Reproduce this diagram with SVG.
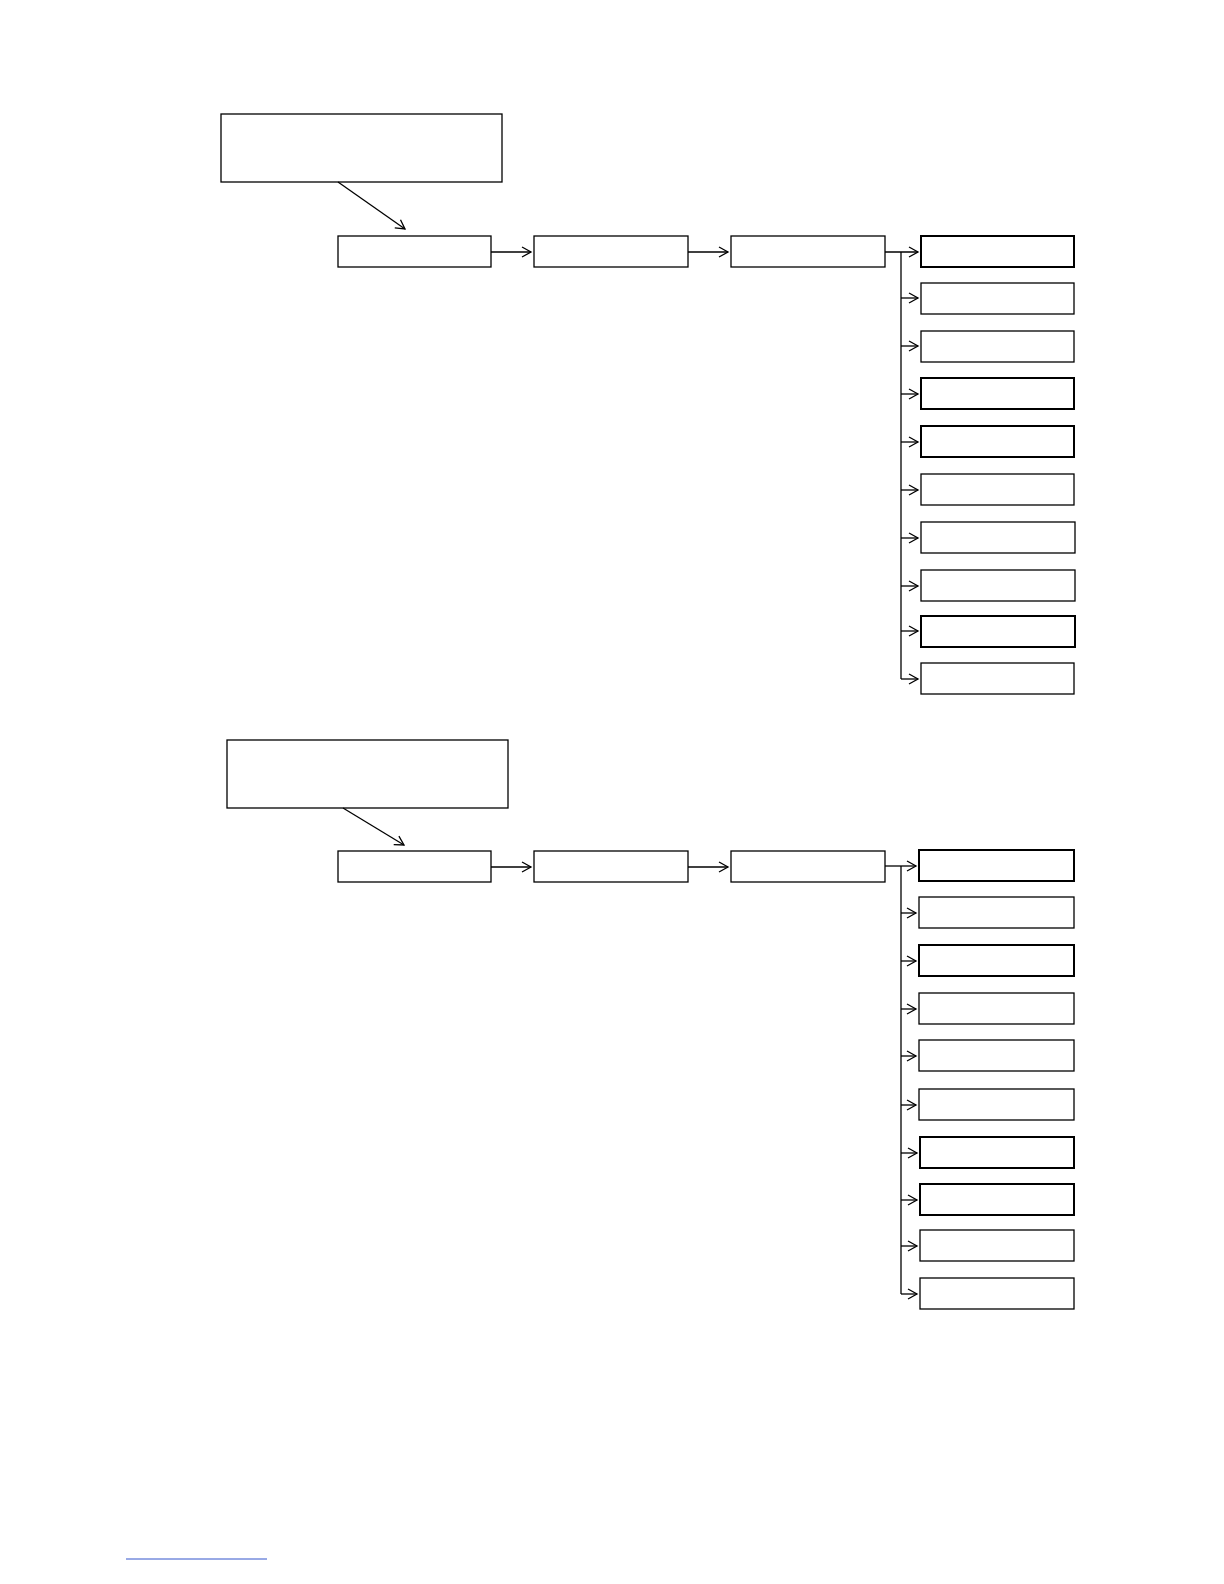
<svg xmlns="http://www.w3.org/2000/svg" width="1224" height="1584" viewBox="0 0 1224 1584" style="background:#fff">
<style>
.n rect{fill:#fff;stroke:#000;stroke-width:1.3}
.n rect.b{stroke-width:2}
#connectors line{stroke:#000;stroke-width:1.3;fill:none}
</style>
<defs><marker id="a" markerWidth="12" markerHeight="12" refX="10" refY="6" orient="auto" markerUnits="userSpaceOnUse"><path d="M1,1 L10,6 L1,11" fill="none" stroke="#000" stroke-width="1.3"/></marker></defs>
<g class="n">
<g id="top-source"><rect x="221" y="114" width="281" height="68"/></g>
<g id="t1"><rect x="338" y="236" width="153" height="31"/></g>
<g id="t2"><rect x="534" y="236" width="154" height="31"/></g>
<g id="t3"><rect x="731" y="236" width="154" height="31"/></g>
<g id="tr1"><rect class="b" x="921" y="236" width="153" height="31"/></g>
<g id="tr2"><rect x="921" y="283" width="153" height="31"/></g>
<g id="tr3"><rect x="921" y="331" width="153" height="31"/></g>
<g id="tr4"><rect class="b" x="921" y="378" width="153" height="31"/></g>
<g id="tr5"><rect class="b" x="921" y="426" width="153" height="31"/></g>
<g id="tr6"><rect x="921" y="474" width="153" height="31"/></g>
<g id="tr7"><rect x="921" y="522" width="154" height="31"/></g>
<g id="tr8"><rect x="921" y="570" width="154" height="31"/></g>
<g id="tr9"><rect class="b" x="921" y="616" width="154" height="31"/></g>
<g id="tr10"><rect x="921" y="663" width="153" height="31"/></g>
<g id="bottom-source"><rect x="227" y="740" width="281" height="68"/></g>
<g id="b1"><rect x="338" y="851" width="153" height="31"/></g>
<g id="b2"><rect x="534" y="851" width="154" height="31"/></g>
<g id="b3"><rect x="731" y="851" width="154" height="31"/></g>
<g id="br1"><rect class="b" x="919" y="850" width="155" height="31"/></g>
<g id="br2"><rect x="919" y="897" width="155" height="31"/></g>
<g id="br3"><rect class="b" x="919" y="945" width="155" height="31"/></g>
<g id="br4"><rect x="919" y="993" width="155" height="31"/></g>
<g id="br5"><rect x="919" y="1040" width="155" height="31"/></g>
<g id="br6"><rect x="919" y="1089" width="155" height="31"/></g>
<g id="br7"><rect class="b" x="920" y="1137" width="154" height="31"/></g>
<g id="br8"><rect class="b" x="920" y="1184" width="154" height="31"/></g>
<g id="br9"><rect x="920" y="1230" width="154" height="31"/></g>
<g id="br10"><rect x="920" y="1278" width="154" height="31"/></g>
</g>
<g id="connectors">
<line x1="338" y1="182" x2="405" y2="229" marker-end="url(#a)"/>
<line x1="491" y1="252" x2="531" y2="252" marker-end="url(#a)"/>
<line x1="688" y1="252" x2="728" y2="252" marker-end="url(#a)"/>
<line x1="885" y1="252" x2="918" y2="252" marker-end="url(#a)"/>
<line x1="901" y1="252" x2="901" y2="679"/>
<line x1="901" y1="298" x2="918" y2="298" marker-end="url(#a)"/>
<line x1="901" y1="346" x2="918" y2="346" marker-end="url(#a)"/>
<line x1="901" y1="394" x2="918" y2="394" marker-end="url(#a)"/>
<line x1="901" y1="442" x2="918" y2="442" marker-end="url(#a)"/>
<line x1="901" y1="490" x2="918" y2="490" marker-end="url(#a)"/>
<line x1="901" y1="538" x2="918" y2="538" marker-end="url(#a)"/>
<line x1="901" y1="586" x2="918" y2="586" marker-end="url(#a)"/>
<line x1="901" y1="631" x2="918" y2="631" marker-end="url(#a)"/>
<line x1="901" y1="679" x2="918" y2="679" marker-end="url(#a)"/>
<line x1="343" y1="808" x2="404" y2="845" marker-end="url(#a)"/>
<line x1="491" y1="867" x2="531" y2="867" marker-end="url(#a)"/>
<line x1="688" y1="867" x2="728" y2="867" marker-end="url(#a)"/>
<line x1="885" y1="866" x2="916" y2="866" marker-end="url(#a)"/>
<line x1="901" y1="866" x2="901" y2="1294"/>
<line x1="901" y1="913" x2="916" y2="913" marker-end="url(#a)"/>
<line x1="901" y1="961" x2="916" y2="961" marker-end="url(#a)"/>
<line x1="901" y1="1009" x2="916" y2="1009" marker-end="url(#a)"/>
<line x1="901" y1="1056" x2="916" y2="1056" marker-end="url(#a)"/>
<line x1="901" y1="1105" x2="916" y2="1105" marker-end="url(#a)"/>
<line x1="901" y1="1153" x2="917" y2="1153" marker-end="url(#a)"/>
<line x1="901" y1="1200" x2="917" y2="1200" marker-end="url(#a)"/>
<line x1="901" y1="1246" x2="917" y2="1246" marker-end="url(#a)"/>
<line x1="901" y1="1294" x2="917" y2="1294" marker-end="url(#a)"/>
</g>
<line x1="126" y1="1559" x2="267" y2="1559" stroke="#3355cc" stroke-width="1"/>
</svg>
